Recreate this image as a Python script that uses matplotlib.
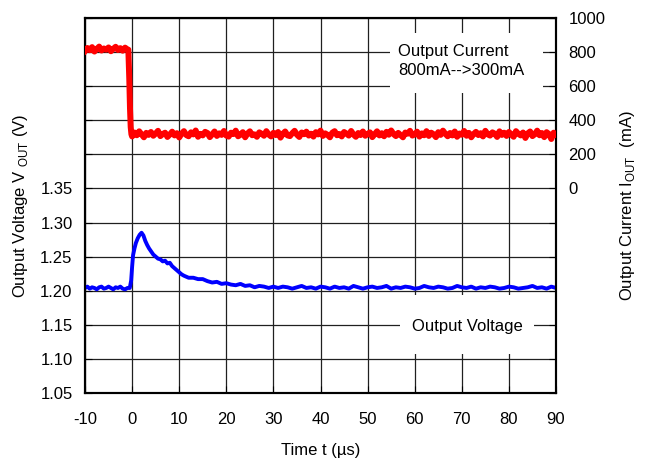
import numpy as np
import matplotlib.pyplot as plt
from matplotlib.patches import Rectangle

plt.rcParams['font.family'] = ['Liberation Sans', 'DejaVu Sans']
plt.rcParams['mathtext.fontset'] = 'custom'
plt.rcParams['mathtext.rm'] = 'Liberation Sans'
plt.rcParams['axes.unicode_minus'] = False

# output current (mA)
cur_pre_t = np.arange(-10, -0.9, 0.5)
cur_pre = [806, 824, 811, 829, 803, 818, 832, 809, 821, 814, 827, 805, 819, 831, 812, 823, 808, 826, 816]
cur_step_t = [-0.8, -0.6, -0.45, -0.3, -0.15]
cur_step = [814, 640, 470, 360, 318]
cur_post_t = np.arange(0, 90.1, 0.5)
cur_post = [305, 328, 312, 335, 318, 300, 326, 314, 331, 309, 322, 338, 307, 319, 327, 302, 316, 333, 311, 324,
            299, 321, 336, 313, 306, 329, 317, 340, 303, 320, 311, 332, 325, 301, 318, 334, 308, 323, 314, 337,
            310, 304, 327, 319, 339, 306, 315, 330, 300, 322, 335, 312, 317, 303, 329, 321, 309, 336, 316, 305,
            326, 313, 331, 298, 320, 334, 311, 307, 324, 338, 315, 302, 328, 318, 333, 310, 321, 304, 330, 317,
            339, 308, 323, 314, 300, 327, 336, 312, 319, 305, 331, 322, 310, 337, 316, 303, 325, 313, 334, 309,
            320, 329, 301, 318, 335, 311, 324, 306, 332, 315, 340, 319, 307, 326, 313, 300, 328, 321, 338, 310,
            317, 333, 304, 323, 312, 336, 308, 327, 318, 301, 330, 314, 339, 320, 306, 325, 311, 334, 303, 322,
            315, 337, 309, 326, 300, 319, 332, 313, 324, 305, 338, 317, 310, 329, 321, 302, 335, 314, 327, 308,
            331, 316, 303, 336, 320, 311, 328, 296, 323, 334, 307, 318, 339, 312, 325, 301, 330, 319, 290, 327,
            316]

# output voltage (V)
volt_pre_t = np.arange(-10, -0.9, 0.5)
volt_pre = [1.204, 1.206, 1.203, 1.205, 1.204, 1.202, 1.205, 1.206, 1.203, 1.204, 1.206, 1.204, 1.202, 1.205,
            1.204, 1.206, 1.203, 1.202, 1.204]
volt_step_t = [-0.5, -0.2, 0.0, 0.2, 0.5, 0.8, 1.2, 1.6, 2.0, 2.4, 2.8, 3.2, 3.6, 4.0, 4.5, 5.0, 5.5, 6.0,
               6.5, 7.0, 7.5, 8.0, 8.5, 9.0, 9.5, 10.0, 10.5, 11.0, 12, 13, 14, 15, 16, 17, 18, 19, 20,
               21, 22, 23, 24, 25, 26, 27, 28, 29, 30]
volt_step = [1.204, 1.215, 1.235, 1.252, 1.262, 1.270, 1.277, 1.282, 1.285, 1.281, 1.273, 1.267, 1.262, 1.258,
             1.253, 1.250, 1.247, 1.246, 1.243, 1.244, 1.240, 1.241, 1.236, 1.233, 1.230, 1.227, 1.224, 1.222,
             1.219, 1.219, 1.217, 1.217, 1.214, 1.212, 1.213, 1.210, 1.211, 1.209, 1.208, 1.210, 1.207, 1.208,
             1.205, 1.207, 1.206, 1.204, 1.206]
volt_post_t = np.arange(31, 91, 1.0)
volt_post = [1.204, 1.206, 1.205, 1.203, 1.205, 1.207, 1.204, 1.205, 1.203, 1.206, 1.205, 1.203, 1.206, 1.204,
             1.205, 1.203, 1.207, 1.205, 1.203, 1.205, 1.206, 1.204, 1.205, 1.207, 1.203, 1.205, 1.204, 1.206,
             1.205, 1.203, 1.204, 1.207, 1.205, 1.204, 1.206, 1.205, 1.203, 1.204, 1.207, 1.205, 1.204, 1.206,
             1.203, 1.205, 1.204, 1.206, 1.205, 1.203, 1.204, 1.206, 1.205, 1.203, 1.204, 1.205, 1.207, 1.204,
             1.205, 1.203, 1.206, 1.204]

x_ticks = list(range(-10, 91, 10))
v_ticks = [1.05, 1.10, 1.15, 1.20, 1.25, 1.30, 1.35, 1.40, 1.45, 1.50, 1.55, 1.60]
i_ticks = [-1200, -1000, -800, -600, -400, -200, 0, 200, 400, 600, 800, 1000]

cur_t = np.concatenate([cur_pre_t, cur_step_t, cur_post_t])
cur = np.concatenate([cur_pre, cur_step, cur_post])
volt_t = np.concatenate([volt_pre_t, volt_step_t, volt_post_t])
volt = np.concatenate([volt_pre, volt_step, volt_post])

fig = plt.figure(figsize=(6.46, 4.62), dpi=100)
ax = fig.add_axes([0.1316, 0.1494, 0.7291, 0.8117])
ax2 = ax.twinx()

ax.set_axisbelow(True)
ax.grid(True, color='#202020', lw=0.9)

# white boxes behind the annotations
ax.add_patch(Rectangle((0.669, 0.104), 0.284, 0.157, transform=ax.transAxes,
                       facecolor='white', edgecolor='none', zorder=1.5))
ax.add_patch(Rectangle((0.648, 0.80), 0.324, 0.16, transform=ax.transAxes,
                       facecolor='white', edgecolor='none', zorder=1.5))

ax.plot(volt_t, volt, color='#0000ff', lw=2.8, zorder=3)
ax2.plot(cur_t, cur, color='#ff0000', lw=4.3, zorder=3)

ax.set_xlim(-10, 90)
ax.set_ylim(1.05, 1.60)
ax2.set_ylim(-1200, 1000)
ax.set_xticks(x_ticks)
ax.set_yticks(v_ticks)
ax.set_yticklabels([f'{v:.2f}' if v < 1.37 else '' for v in v_ticks])
ax2.set_yticks(i_ticks)
ax2.set_yticklabels([str(v) if v >= 0 else '' for v in i_ticks])

ax.tick_params(axis='x', direction='in', length=5, labelsize=12, pad=14)
ax.tick_params(axis='y', direction='in', length=5, labelsize=12, pad=9)
ax2.tick_params(axis='y', direction='in', length=5, labelsize=12, pad=9)
for a in (ax, ax2):
    for s in a.spines.values():
        s.set_linewidth(1.5)
        s.set_color('black')

ax.set_xlabel('Time t (µs)', fontsize=12, labelpad=11)
ax.set_ylabel('Output Voltage V $_{\\mathregular{OUT}}$ (V)', fontsize=12, labelpad=7)
ax2.set_ylabel('Output Current I$_{\\mathregular{OUT}}$  (mA)', fontsize=12, labelpad=9)

ax.text(0.665, 0.885, 'Output Current\n800mA-->300mA', transform=ax.transAxes,
        fontsize=12, ha='left', va='center', linespacing=1.35, zorder=4)
ax.text(0.811, 0.176, 'Output Voltage', transform=ax.transAxes,
        fontsize=12, ha='center', va='center', zorder=4)

fig.savefig('out.png', dpi=100)
